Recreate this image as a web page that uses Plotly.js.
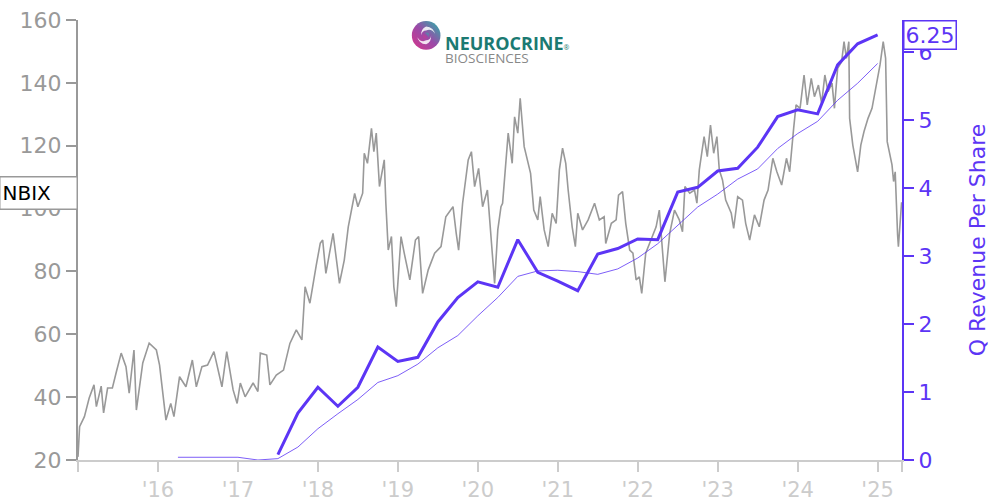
<!DOCTYPE html>
<html>
<head>
<meta charset="utf-8">
<script src="https://cdn.plot.ly/plotly-3.0.1.min.js"></script>
<style>html,body{margin:0;padding:0;background:#fff;}#chart{width:1000px;height:500px;}</style>
</head>
<body>
<div id="chart"></div>
<script>
// NBIX price (decimal year, USD)
const priceT = [2015.00,2015.02,2015.08,2015.14,2015.20,2015.23,2015.29,2015.32,2015.37,2015.43,2015.48,2015.54,2015.60,2015.64,2015.70,2015.73,2015.81,2015.89,2015.98,2016.02,2016.10,2016.16,2016.20,2016.27,2016.35,2016.43,2016.48,2016.55,2016.62,2016.70,2016.80,2016.86,2016.94,2016.99,2017.03,2017.09,2017.19,2017.25,2017.28,2017.36,2017.40,2017.48,2017.57,2017.65,2017.73,2017.80,2017.84,2017.90,2017.98,2018.03,2018.06,2018.10,2018.19,2018.27,2018.33,2018.38,2018.46,2018.50,2018.56,2018.58,2018.62,2018.67,2018.70,2018.73,2018.77,2018.83,2018.85,2018.88,2018.92,2018.95,2018.98,2019.01,2019.04,2019.08,2019.15,2019.22,2019.26,2019.31,2019.38,2019.46,2019.54,2019.60,2019.69,2019.73,2019.76,2019.81,2019.88,2019.92,2019.96,2020.01,2020.06,2020.12,2020.16,2020.21,2020.25,2020.29,2020.31,2020.38,2020.43,2020.46,2020.50,2020.53,2020.58,2020.62,2020.66,2020.70,2020.75,2020.78,2020.83,2020.88,2020.93,2020.98,2021.02,2021.06,2021.10,2021.13,2021.18,2021.22,2021.25,2021.31,2021.38,2021.46,2021.52,2021.58,2021.60,2021.67,2021.73,2021.76,2021.81,2021.85,2021.90,2021.94,2021.98,2022.02,2022.05,2022.10,2022.17,2022.23,2022.27,2022.31,2022.34,2022.40,2022.46,2022.52,2022.56,2022.59,2022.65,2022.71,2022.74,2022.77,2022.83,2022.87,2022.91,2022.95,2022.99,2023.02,2023.06,2023.10,2023.17,2023.20,2023.25,2023.31,2023.35,2023.40,2023.46,2023.52,2023.58,2023.63,2023.69,2023.74,2023.80,2023.86,2023.90,2023.95,2023.98,2024.03,2024.08,2024.12,2024.17,2024.21,2024.26,2024.30,2024.34,2024.38,2024.43,2024.46,2024.50,2024.55,2024.58,2024.61,2024.64,2024.65,2024.69,2024.75,2024.79,2024.83,2024.88,2024.93,2024.98,2025.03,2025.07,2025.10,2025.12,2025.15,2025.18,2025.20,2025.22,2025.25,2025.26,2025.30];
const priceV = [21,30.6,33.8,39.7,43.9,37,43.5,35,42.9,42.9,48.1,54,49.7,41.3,55,35.9,50.9,57.2,55,50.2,32.7,38,33.8,46.5,43.3,51.8,43.3,49.7,50.2,54.5,43.3,54.5,42.3,38,44.5,40.1,44.5,41.8,54,53.4,43.9,47,48.6,57.1,61.4,58.2,75.1,69.9,82,89,90,79.4,92.1,76.2,83.6,94.2,104.8,100.6,104.9,117.6,114.4,125.5,118.1,124,107,115.5,101.7,86.8,91.1,75.1,68.8,81.5,91.1,85.8,77.3,90,91.1,73,80.5,85.8,87.9,97.4,100.6,92.1,86.8,101.7,115.5,118.1,107,112.8,100.6,105.9,92.1,76.2,93.2,100.6,101.7,124,114.4,129.2,124,135.1,119.7,115.5,111.2,99.5,96.4,103.8,93.2,87.9,98.5,95.3,112.3,119.2,114.4,105.9,94.2,87.9,98.5,93.2,96.4,101.7,96.4,97.4,88.9,95.3,96.4,104.3,105.4,95.3,86.8,85.8,77.3,78.3,73,85.8,90,94.2,99.5,86.8,76.7,92.1,99.5,96.4,92.6,107,104.9,105.9,101.7,112.3,122.9,116.5,126.6,117.6,122.9,112.3,109.1,102.7,98.5,93.7,103.8,102.7,95.3,90,98,94.2,102.7,105.9,116,111.7,107.5,116,111.7,125.5,133,131.9,142.5,133,141.4,135.6,139.3,133.5,142.5,137.2,139.9,131.9,144.6,146.7,153.1,147.8,153.1,128.7,120.2,111.7,120.2,124.5,128.7,131.9,138.3,145.7,153.1,147.8,121.3,117,113.9,108.6,111.7,91.6,87.9,102];

// Quarterly revenue per share
const revT = [2017.50,2017.75,2018.00,2018.25,2018.50,2018.75,2019.00,2019.25,2019.50,2019.75,2020.00,2020.25,2020.50,2020.75,2021.00,2021.25,2021.50,2021.75,2022.00,2022.25,2022.50,2022.75,2023.00,2023.25,2023.50,2023.75,2024.00,2024.25,2024.50,2024.75,2025.00];
const revV = [0.08,0.69,1.07,0.79,1.07,1.66,1.45,1.51,2.03,2.39,2.62,2.54,3.24,2.76,2.63,2.49,3.03,3.11,3.25,3.24,3.94,4.01,4.25,4.29,4.60,5.05,5.15,5.09,5.81,6.12,6.25];

// Smoothed revenue per share (thin line)
const avgT = [2016.25,2016.50,2016.75,2017.00,2017.25,2017.50,2017.75,2018.00,2018.25,2018.50,2018.75,2019.00,2019.25,2019.50,2019.75,2020.00,2020.25,2020.50,2020.75,2021.00,2021.25,2021.50,2021.75,2022.00,2022.25,2022.50,2022.75,2023.00,2023.25,2023.50,2023.75,2024.00,2024.25,2024.50,2024.75,2025.00];
const avgV = [0.04,0.04,0.04,0.04,0.00,0.02,0.19,0.46,0.68,0.89,1.14,1.24,1.41,1.65,1.83,2.12,2.39,2.70,2.78,2.79,2.77,2.73,2.81,2.97,3.18,3.45,3.72,3.91,4.13,4.28,4.58,4.80,4.98,5.29,5.54,5.83];

const xTickVals = [2015,2016,2017,2018,2019,2020,2021,2022,2023,2024,2025,2025.305];
const xTickText = [" ","'16","'17","'18","'19","'20","'21","'22","'23","'24","'25"," "];
const ticker = "NBIX";
const rightTitle = "Q Revenue Per Share";

const PURPLE = "#5c35f5";
const FONT = "DejaVu Sans, sans-serif";

const traces = [
  {x: priceT, y: priceV, type: "scatter", mode: "lines", line: {color: "#999999", width: 1.6}, yaxis: "y", hoverinfo: "skip"},
  {x: avgT, y: avgV, type: "scatter", mode: "lines", line: {color: PURPLE, width: 0.8}, yaxis: "y2", hoverinfo: "skip"},
  {x: revT, y: revV, type: "scatter", mode: "lines", line: {color: PURPLE, width: 3}, yaxis: "y2", hoverinfo: "skip"}
];

const logoSvg = '<svg xmlns="http://www.w3.org/2000/svg" width="60" height="60" viewBox="0 0 60 60">' +
  '<defs><linearGradient id="g" x1="0" y1="1" x2="1" y2="0"><stop offset="0" stop-color="#d8358a"/><stop offset="0.5" stop-color="#9a4aa8"/><stop offset="1" stop-color="#22b8a8"/></linearGradient></defs>' +
  '<circle cx="30" cy="30" r="29" fill="url(#g)"/>' +
  '<path d="M30 12 A18 18 0 0 1 48 30 A12 12 0 0 0 30 20 A10 10 0 0 0 20 30 A18 18 0 0 1 30 12 Z" fill="#ffffff" opacity="0.85"/>' +
  '<path d="M30 48 A18 18 0 0 1 12 30 A12 12 0 0 0 30 40 A10 10 0 0 0 40 30 A18 18 0 0 1 30 48 Z" fill="#ffffff" opacity="0.85"/>' +
  '<circle cx="30" cy="30" r="6" fill="url(#g)"/></svg>';

const layout = {
  width: 1000, height: 500,
  margin: {l: 78, r: 98, t: 20, b: 40, pad: 0},
  paper_bgcolor: "#ffffff", plot_bgcolor: "#ffffff",
  showlegend: false,
  font: {family: FONT, size: 22, color: "#999999"},
  xaxis: {
    type: "linear", range: [2015, 2025.305],
    tickmode: "array", tickvals: xTickVals, ticktext: xTickText,
    ticks: "outside", ticklen: 10, tickwidth: 2, tickcolor: "#cccccc",
    showline: true, linecolor: "#cccccc", linewidth: 2,
    showgrid: false, zeroline: false,
    tickfont: {family: FONT, size: 21, color: "#cccccc"}
  },
  yaxis: {
    range: [20, 160], tickvals: [20,40,60,80,100,120,140,160],
    ticks: "outside", ticklen: 10, tickwidth: 2, tickcolor: "#999999",
    showline: true, linecolor: "#999999", linewidth: 2,
    showgrid: false, zeroline: false,
    tickfont: {family: FONT, size: 22, color: "#999999"}
  },
  yaxis2: {
    overlaying: "y", side: "right", range: [0, 6.47], tickvals: [0,1,2,3,4,5,6],
    ticks: "outside", ticklen: 10, tickwidth: 2, tickcolor: PURPLE,
    showline: true, linecolor: PURPLE, linewidth: 2,
    showgrid: false, zeroline: false,
    tickfont: {family: FONT, size: 22, color: PURPLE},
    title: {text: rightTitle, font: {family: FONT, size: 22, color: PURPLE}, standoff: 38}
  },
  annotations: [
    {xref: "paper", yref: "y", x: 0, y: priceV[priceV.length-1], yshift: 9, xanchor: "right", yanchor: "middle",
     text: ticker, showarrow: false, align: "left", width: 72, height: 27,
     font: {family: FONT, size: 20, color: "#000000"}, bgcolor: "#ffffff", bordercolor: "#999999", borderwidth: 1.5, borderpad: 2},
    {xref: "paper", yref: "y2", x: 1, y: revV[revV.length-1], xanchor: "left", yanchor: "middle", xshift: 1,
     text: revV[revV.length-1].toFixed(2), showarrow: false,
     font: {family: FONT, size: 22, color: PURPLE}, bgcolor: "#ffffff", bordercolor: PURPLE, borderwidth: 1.5, borderpad: 1},
    {xref: "paper", yref: "paper", x: 0.443, y: 1.0, xanchor: "left", yanchor: "top", yshift: -9,
     text: "<b>NEUROCRINE</b><span style='font-size:7px'>®</span>", showarrow: false,
     font: {family: "Open Sans, DejaVu Sans, sans-serif", size: 18, color: "#1b7a72"}},
    {xref: "paper", yref: "paper", x: 0.443, y: 1.0, xanchor: "left", yanchor: "top", yshift: -27,
     text: "BIOSCIENCES", showarrow: false,
     font: {family: "Open Sans, DejaVu Sans, sans-serif", size: 13.5, color: "#888888"}}
  ],
  images: [
    {source: "data:image/svg+xml;charset=utf-8," + encodeURIComponent(logoSvg),
     xref: "paper", yref: "paper", x: 0.4045, y: 1.0, sizex: 0.036, sizey: 0.07, xanchor: "left", yanchor: "top", sizing: "contain", layer: "above"}
  ]
};

Plotly.newPlot("chart", traces, layout, {displayModeBar: false, staticPlot: true});
</script>
</body>
</html>
